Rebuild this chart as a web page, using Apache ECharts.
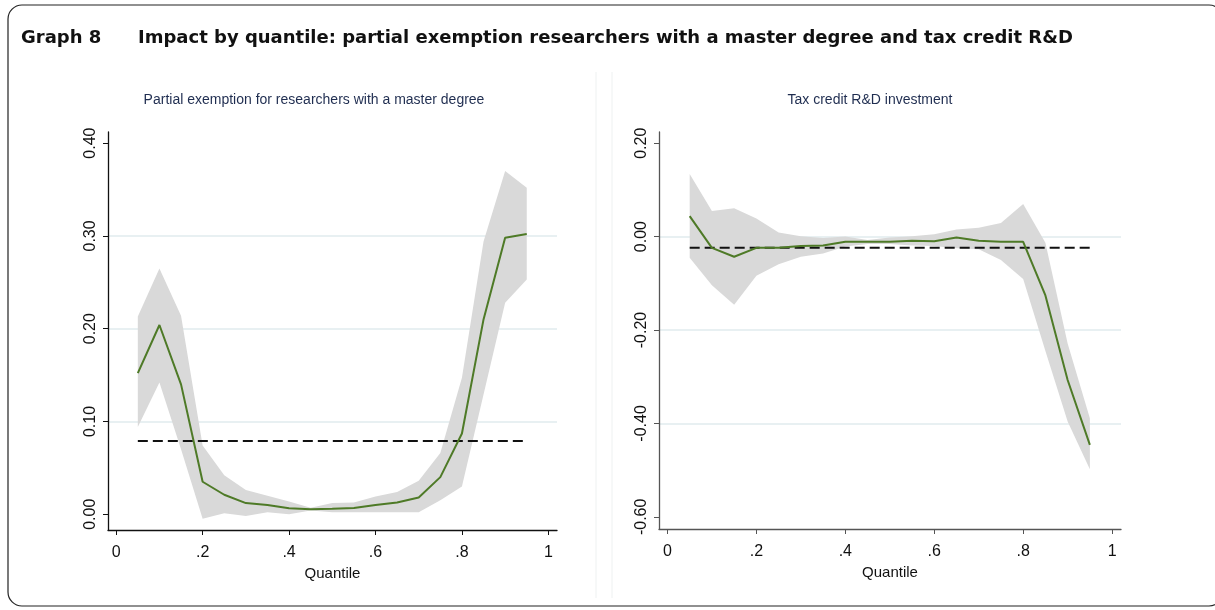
<!DOCTYPE html>
<html>
<head>
<meta charset="utf-8">
<script src="https://cdn.jsdelivr.net/npm/echarts@6/dist/echarts.min.js"></script>
<style>
  html, body { margin: 0; padding: 0; background: #fff; }
  #chart { width: 1215px; height: 610px; }
</style>
</head>
<body>
<div id="chart"></div>
<script>
// quantiles used in both panels
const quantiles = [0.05, 0.10, 0.15, 0.20, 0.25, 0.30, 0.35, 0.40, 0.45, 0.50,
  0.55, 0.60, 0.65, 0.70, 0.75, 0.80, 0.85, 0.90, 0.95];

// left panel: partial exemption, researchers with a master degree
const masterCoef = [0.152, 0.204, 0.140, 0.035, 0.021, 0.012, 0.010, 0.0065, 0.0054, 0.006,
  0.0068, 0.010, 0.0126, 0.018, 0.040, 0.087, 0.210, 0.298, 0.302];
const masterUpper = [0.213, 0.265, 0.214, 0.074, 0.042, 0.026, 0.020, 0.0137, 0.007, 0.012,
  0.0126, 0.019, 0.024, 0.036, 0.066, 0.147, 0.294, 0.370, 0.352];
const masterLower = [0.094, 0.142, 0.070, -0.005, 0.001, -0.002, 0.002, 0.000, 0.004, 0.002,
  0.002, 0.002, 0.002, 0.002, 0.015, 0.030, 0.129, 0.228, 0.253];
const masterOls = 0.079;

// right panel: tax credit R&D investment
const rdCoef = [0.044, -0.024, -0.043, -0.024, -0.024, -0.020, -0.019, -0.011, -0.011, -0.011,
  -0.009, -0.010, -0.002, -0.009, -0.011, -0.011, -0.126, -0.307, -0.446];
const rdUpper = [0.134, 0.055, 0.061, 0.039, 0.009, 0.001, -0.003, 0.000, -0.007, -0.002,
  0.001, 0.005, 0.015, 0.019, 0.029, 0.070, -0.013, -0.229, -0.389];
const rdLower = [-0.045, -0.104, -0.146, -0.084, -0.059, -0.043, -0.036, -0.021, -0.016, -0.016,
  -0.019, -0.020, -0.025, -0.027, -0.050, -0.091, -0.245, -0.396, -0.498];
const rdOls = -0.024;

// tick labels
const xTicks = [0, 0.2, 0.4, 0.6, 0.8, 1];
const masterYTicks = [0, 0.1, 0.2, 0.3, 0.4];
const rdYTicks = [-0.6, -0.4, -0.2, 0, 0.2];

const sans = '"Liberation Sans", Arial, sans-serif';

const chart = echarts.init(document.getElementById('chart'));

const pairs = (ys) => quantiles.map((q, i) => [q, ys[i]]);

const makeX = (idx, axisColor) => ({
  type: 'value',
  gridIndex: idx,
  min: -0.019,
  max: 1.02,
  name: 'Quantile',
  nameLocation: 'middle',
  nameGap: 35,
  nameTextStyle: { fontFamily: sans, fontSize: 15, color: '#111' },
  axisLine: { show: true, onZero: false, lineStyle: { color: axisColor, width: 1.3 } },
  axisTick: { show: true, length: 5, customValues: xTicks, lineStyle: { color: axisColor } },
  axisLabel: {
    customValues: xTicks,
    margin: 15,
    fontFamily: sans,
    fontSize: 16,
    color: '#111',
    formatter: (v) => (v === 0 || v === 1 ? String(v) : v.toFixed(1).replace(/^0/, ''))
  },
  splitLine: { show: false }
});

const makeY = (idx, min, max, ticks, axisColor) => ({
  type: 'value',
  gridIndex: idx,
  min: min,
  max: max,
  axisLine: { show: true, onZero: false, lineStyle: { color: axisColor, width: 1.3 } },
  axisTick: { show: true, length: 5, customValues: ticks, lineStyle: { color: axisColor } },
  axisLabel: {
    customValues: ticks,
    rotate: 90,
    margin: 9,
    fontFamily: sans,
    fontSize: 16,
    color: '#111',
    formatter: (v) => v.toFixed(2)
  },
  splitLine: {
    show: true,
    showMinLine: false,
    showMaxLine: false,
    lineStyle: { color: '#e8f0f2', width: 2 }
  }
});

// confidence band drawn as one polygon through the axis scales
const bandItem = (lower, upper) => (params, api) => {
  if (params.dataIndex !== 0) return null;
  const pts = [];
  for (let i = 0; i < quantiles.length; i++) pts.push(api.coord([quantiles[i], upper[i]]));
  for (let i = quantiles.length - 1; i >= 0; i--) pts.push(api.coord([quantiles[i], lower[i]]));
  return { type: 'polygon', shape: { points: pts }, style: { fill: '#d9d9d9' } };
};

const makeSeries = (idx, coef, lower, upper, ols) => [
  {
    type: 'custom', xAxisIndex: idx, yAxisIndex: idx,
    data: quantiles.map((q, i) => [q, lower[i], upper[i]]),
    encode: { x: 0, y: [1, 2] },
    renderItem: bandItem(lower, upper),
    silent: true, z: 1
  },
  {
    type: 'line', xAxisIndex: idx, yAxisIndex: idx,
    data: [[quantiles[0], ols], [quantiles[quantiles.length - 1], ols]],
    symbol: 'none',
    lineStyle: { color: '#111', width: 2, type: [10, 5] },
    z: 3
  },
  {
    type: 'line', xAxisIndex: idx, yAxisIndex: idx,
    data: pairs(coef),
    symbol: 'none',
    lineStyle: { color: '#4e7a27', width: 2 },
    z: 4
  }
];

const option = {
  animation: false,
  backgroundColor: '#fff',
  grid: [
    { left: 108, top: 132, width: 449, height: 398 },
    { left: 659, top: 132, width: 462, height: 397 }
  ],
  xAxis: [makeX(0, '#111'), makeX(1, '#555')],
  yAxis: [
    makeY(0, -0.017, 0.412, masterYTicks, '#111'),
    makeY(1, -0.626, 0.224, rdYTicks, '#555')
  ],
  series: [
    ...makeSeries(0, masterCoef, masterLower, masterUpper, masterOls),
    ...makeSeries(1, rdCoef, rdLower, rdUpper, rdOls)
  ],
  graphic: [
    {
      type: 'rect', z: -1,
      shape: { x: 8, y: 5, width: 1215, height: 601, r: 14 },
      style: { fill: 'none', stroke: '#222', lineWidth: 1.2 }
    },
    { type: 'line', shape: { x1: 596, y1: 72, x2: 596, y2: 598 }, style: { stroke: '#eef1f1', lineWidth: 1 } },
    { type: 'line', shape: { x1: 612, y1: 72, x2: 612, y2: 598 }, style: { stroke: '#eef1f1', lineWidth: 1 } },
    {
      type: 'text', x: 21, y: 38,
      style: {
        text: 'Graph 8', fontFamily: '"DejaVu Sans"', fontWeight: 'bold', fontSize: 18,
        fill: '#111', textVerticalAlign: 'middle'
      }
    },
    {
      type: 'text', x: 138, y: 38,
      style: {
        text: 'Impact by quantile: partial exemption researchers with a master degree and tax credit R&D',
        fontFamily: '"DejaVu Sans"', fontWeight: 'bold', fontSize: 18,
        fill: '#111', textVerticalAlign: 'middle'
      }
    },
    {
      type: 'text', x: 314, y: 100,
      style: {
        text: 'Partial exemption for researchers with a master degree',
        fontFamily: sans, fontSize: 14, fill: '#1f2d50',
        textAlign: 'center', textVerticalAlign: 'middle'
      }
    },
    {
      type: 'text', x: 870, y: 100,
      style: {
        text: 'Tax credit R&D investment',
        fontFamily: sans, fontSize: 14, fill: '#1f2d50',
        textAlign: 'center', textVerticalAlign: 'middle'
      }
    }
  ]
};

chart.setOption(option);
</script>
</body>
</html>
